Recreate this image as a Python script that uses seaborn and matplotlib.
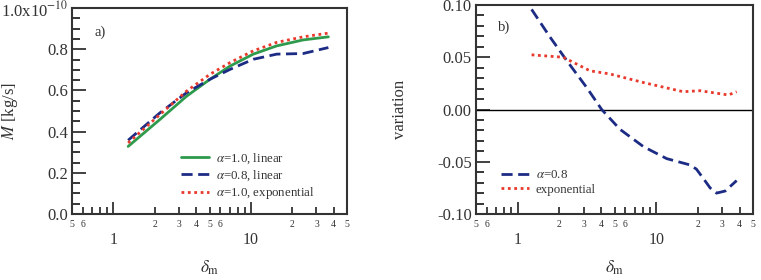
import numpy as np
import pandas as pd
import matplotlib
matplotlib.use("Agg")
import matplotlib.pyplot as plt
import seaborn as sns
from matplotlib.ticker import FixedLocator, FixedFormatter

# ---------------- data ----------------
x_a = [1.28, 2.18, 3.41, 5.04, 7.05, 10.4, 15.4, 24.0, 36.6]
m_lin10 = [0.328, 0.459, 0.572, 0.654, 0.718, 0.776, 0.816, 0.845, 0.860]
m_lin08 = [0.358, 0.491, 0.589, 0.654, 0.702, 0.751, 0.776, 0.779, 0.808]
m_exp10 = [0.345, 0.483, 0.597, 0.678, 0.735, 0.792, 0.833, 0.860, 0.878]

x_b08 = [1.26, 1.71, 2.26, 3.15, 4.04, 5.48, 8.08, 11.9, 17.5, 19.5, 21.9, 24.5, 27.3, 31.5, 38.1]
v_b08 = [0.0958, 0.0694, 0.0468, 0.021, 0.0, -0.019, -0.0355, -0.047, -0.053, -0.057,
         -0.066, -0.075, -0.080, -0.078, -0.068]
x_bexp = [1.26, 2.13, 3.33, 4.64, 8.08, 15.7, 20.7, 26.0, 33.2, 38.1]
v_bexp = [0.0523, 0.050, 0.037, 0.034, 0.0258, 0.017, 0.018, 0.016, 0.0139, 0.017]

lab_a = [r"$\alpha$=1.0, linear", r"$\alpha$=0.8, linear", r"$\alpha$=1.0, exponential"]
lab_b = [r"$\alpha$=0.8", "exponential"]

minor_ticks = [0.5, 0.6, 0.7, 0.8, 0.9, 2, 3, 4, 5, 6, 7, 8, 9, 20, 30, 40, 50]
minor_labels = ["5", "6", "", "", "", "2", "3", "4", "5", "6", "", "", "", "2", "3", "4", "5"]
major_ticks = [1, 10]
major_labels = ["1", "10"]

c_green = "#2e9a4c"
c_blue = "#1c2c84"
c_red = "#e8392c"
c_text = "#333333"

# ---------------- style ----------------
sns.set_style("ticks")
plt.rcParams["font.family"] = ["Liberation Serif", "DejaVu Serif"]
plt.rcParams["mathtext.fontset"] = "stix"

fig = plt.figure(figsize=(7.61, 2.80), dpi=100)
axA = fig.add_axes([72 / 761, 1 - 214 / 280, 275 / 761, 206 / 280])
axB = fig.add_axes([476 / 761, 1 - 214 / 280, 277 / 761, 209 / 280])

dfA = pd.concat([
    pd.DataFrame({"x": x_a, "y": m_lin10, "s": lab_a[0]}),
    pd.DataFrame({"x": x_a, "y": m_lin08, "s": lab_a[1]}),
    pd.DataFrame({"x": x_a, "y": m_exp10, "s": lab_a[2]}),
])
dfB = pd.concat([
    pd.DataFrame({"x": x_b08, "y": v_b08, "s": lab_b[0]}),
    pd.DataFrame({"x": x_bexp, "y": v_bexp, "s": lab_b[1]}),
])

sns.lineplot(data=dfA, x="x", y="y", hue="s", style="s", ax=axA,
             palette={lab_a[0]: c_green, lab_a[1]: c_blue, lab_a[2]: c_red},
             dashes={lab_a[0]: "", lab_a[1]: (4, 2), lab_a[2]: (1, 1.3)},
             linewidth=2, sort=False, estimator=None)
sns.lineplot(data=dfB, x="x", y="y", hue="s", style="s", ax=axB,
             palette={lab_b[0]: c_blue, lab_b[1]: c_red},
             dashes={lab_b[0]: (4, 2), lab_b[1]: (1, 1.3)},
             linewidth=2, sort=False, estimator=None)

axB.axhline(0, color="black", lw=1.0, zorder=1)

for ax, h in ((axA, 206), (axB, 209)):
    ax.set_xscale("log")
    ax.set_xlim(0.5, 50)
    ax.xaxis.set_major_locator(FixedLocator(major_ticks))
    ax.xaxis.set_major_formatter(FixedFormatter(major_labels))
    ax.xaxis.set_minor_locator(FixedLocator(minor_ticks))
    ax.xaxis.set_minor_formatter(FixedFormatter(minor_labels))
    ax.tick_params(axis="x", which="major", direction="in", length=9, width=1.3,
                   labelsize=11.5, pad=13, colors=c_text, top=False)
    ax.tick_params(axis="x", which="minor", direction="in", length=5, width=1.3,
                   labelsize=7, pad=4, colors=c_text, top=False)
    ax.tick_params(axis="y", which="major", direction="in", length=10, width=1.3,
                   labelsize=12, pad=3, colors=c_text, right=False)
    ax.tick_params(axis="y", which="minor", direction="in", length=6, width=1.3,
                   right=False)
    for sp in ax.spines.values():
        sp.set_visible(True)
        sp.set_color(c_text)
        sp.set_linewidth(1.5)
    ax.set_xlabel(r"$\delta_{\rm m}$", fontsize=12.5, color=c_text)
    ax.xaxis.set_label_coords(0.5, -(268 - 214) / h)
    ax.xaxis.label.set_va("center")

# panel a
axA.set_ylim(0, 1.0)
axA.yaxis.set_major_locator(FixedLocator([0.0, 0.2, 0.4, 0.6, 0.8, 1.0]))
axA.yaxis.set_major_formatter(FixedFormatter(["0.0", "0.2", "0.4", "0.6", "0.8",
                                              r"1.0x10$^{-10}$"]))
axA.yaxis.set_minor_locator(FixedLocator(np.arange(0, 1.0001, 0.05)))
axA.set_ylabel(r"$M$ [kg/s]", fontsize=12, color=c_text)
axA.yaxis.set_label_coords((10 - 72) / 275, 0.5)
axA.yaxis.label.set_va("center")
axA.text(0.083, (214 - 32) / 206, "a)", transform=axA.transAxes, fontsize=10.5,
         color=c_text, va="center")
axA.legend(loc="upper left", bbox_to_anchor=(0.395, (214 - 151) / 206), frameon=False,
           fontsize=9.3, handlelength=2.2, handletextpad=0.5, labelspacing=0.2,
           borderpad=0, borderaxespad=0, labelcolor=c_text)

# panel b
axB.set_ylim(-0.10, 0.10)
axB.yaxis.set_major_locator(FixedLocator([-0.10, -0.05, 0.0, 0.05, 0.10]))
axB.yaxis.set_major_formatter(FixedFormatter(["-0.10", "-0.05", "0.00", "0.05", "0.10"]))
axB.yaxis.set_minor_locator(FixedLocator(np.arange(-0.10, 0.10001, 0.01)))
axB.set_ylabel("variation", fontsize=12, color=c_text)
axB.yaxis.set_label_coords((400 - 476) / 277, 0.5)
axB.yaxis.label.set_va("center")
axB.text(0.08, (214 - 27) / 209, "b)", transform=axB.transAxes, fontsize=10.5,
         color=c_text, va="center")
axB.legend(loc="upper left", bbox_to_anchor=(0.09, (214 - 169) / 209), frameon=False,
           fontsize=9.3, handlelength=2.2, handletextpad=0.5, labelspacing=0.2,
           borderpad=0, borderaxespad=0, labelcolor=c_text)

fig.savefig("out.png", dpi=100)
